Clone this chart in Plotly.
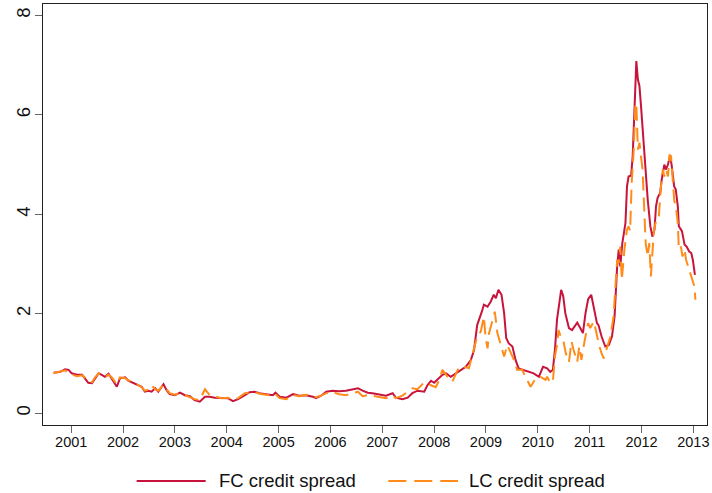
import plotly.graph_objects as go

# FC credit spread, x in decimal years
fc_years = [2000.66, 2000.79, 2000.88, 2000.95, 2001.01, 2001.11, 2001.21, 2001.27, 2001.33, 2001.40,
            2001.46, 2001.53, 2001.59, 2001.65, 2001.72, 2001.78, 2001.88, 2001.94, 2002.04, 2002.10,
            2002.20, 2002.29, 2002.36, 2002.42, 2002.49, 2002.55, 2002.62, 2002.68, 2002.78, 2002.84,
            2002.90, 2003.00, 2003.10, 2003.19, 2003.29, 2003.38, 2003.48, 2003.58, 2003.67, 2003.77,
            2003.90, 2004.02, 2004.12, 2004.22, 2004.35, 2004.44, 2004.54, 2004.63, 2004.76, 2004.89,
            2004.94, 2005.02, 2005.15, 2005.28, 2005.40, 2005.53, 2005.66, 2005.72, 2005.82, 2005.92,
            2006.04, 2006.17, 2006.30, 2006.43, 2006.53, 2006.62, 2006.72, 2006.81, 2006.94, 2007.07,
            2007.20, 2007.26, 2007.39, 2007.49, 2007.58, 2007.68, 2007.81, 2007.87, 2007.94, 2008.00,
            2008.06, 2008.16, 2008.23, 2008.32, 2008.42, 2008.51, 2008.61, 2008.71, 2008.77, 2008.83,
            2008.87, 2008.92, 2008.96, 2009.03, 2009.09, 2009.15, 2009.19, 2009.24, 2009.30, 2009.35,
            2009.39, 2009.44, 2009.51, 2009.57, 2009.63, 2009.73, 2009.83, 2009.92, 2010.02, 2010.10,
            2010.18, 2010.24, 2010.29, 2010.33, 2010.37, 2010.42, 2010.45, 2010.49, 2010.53, 2010.60,
            2010.66, 2010.76, 2010.82, 2010.87, 2010.92, 2010.97, 2011.03, 2011.08, 2011.14, 2011.17,
            2011.23, 2011.30, 2011.37, 2011.43, 2011.48, 2011.53, 2011.56, 2011.59, 2011.63, 2011.69,
            2011.72, 2011.75, 2011.80, 2011.83, 2011.87, 2011.90, 2011.93, 2011.96, 2011.99, 2012.04,
            2012.08, 2012.12, 2012.17, 2012.21, 2012.25, 2012.28, 2012.31, 2012.36, 2012.39, 2012.44,
            2012.47, 2012.51, 2012.55, 2012.58, 2012.63, 2012.66, 2012.70, 2012.72, 2012.78, 2012.83,
            2012.87, 2012.92, 2012.96, 2012.99, 2013.03]
fc_spread = [0.81, 0.83, 0.88, 0.87, 0.80, 0.77, 0.77, 0.70, 0.61, 0.60,
             0.70, 0.80, 0.77, 0.73, 0.79, 0.70, 0.53, 0.70, 0.72, 0.65,
             0.61, 0.56, 0.53, 0.43, 0.45, 0.43, 0.50, 0.43, 0.58, 0.46,
             0.38, 0.36, 0.41, 0.36, 0.34, 0.26, 0.23, 0.33, 0.33, 0.31,
             0.30, 0.30, 0.24, 0.28, 0.36, 0.42, 0.43, 0.40, 0.38, 0.36,
             0.41, 0.33, 0.31, 0.38, 0.35, 0.36, 0.33, 0.30, 0.35, 0.43,
             0.45, 0.44, 0.45, 0.48, 0.50, 0.45, 0.41, 0.40, 0.38, 0.35,
             0.40, 0.31, 0.28, 0.31, 0.40, 0.45, 0.43, 0.56, 0.65, 0.61,
             0.67, 0.77, 0.80, 0.73, 0.80, 0.87, 0.93, 1.07, 1.27, 1.77,
             1.88, 2.04, 2.18, 2.14, 2.24, 2.38, 2.31, 2.48, 2.38, 2.01,
             1.51, 1.40, 1.34, 1.07, 0.90, 0.87, 0.83, 0.80, 0.73, 0.93,
             0.90, 0.83, 0.87, 1.27, 1.88, 2.21, 2.48, 2.35, 2.01, 1.71,
             1.67, 1.82, 1.71, 1.61, 2.01, 2.29, 2.38, 2.14, 1.81, 1.77,
             1.54, 1.34, 1.37, 1.54, 1.94, 2.95, 3.29, 2.95, 3.42, 3.82,
             4.56, 4.76, 4.78, 5.17, 6.31, 7.08, 6.71, 6.58, 6.18, 5.44,
             4.76, 4.29, 3.76, 3.55, 3.69, 4.16, 4.33, 4.43, 4.70, 5.00,
             4.90, 5.00, 5.17, 5.00, 4.56, 4.50, 4.16, 3.76, 3.66, 3.39,
             3.35, 3.25, 3.22, 3.08, 2.78]

# LC credit spread
lc_years = [2000.66, 2000.79, 2000.88, 2000.95, 2001.01, 2001.11, 2001.21, 2001.27, 2001.33, 2001.40,
            2001.46, 2001.53, 2001.59, 2001.65, 2001.72, 2001.78, 2001.88, 2001.94, 2002.04, 2002.10,
            2002.20, 2002.29, 2002.36, 2002.42, 2002.49, 2002.55, 2002.62, 2002.68, 2002.78, 2002.84,
            2002.90, 2003.00, 2003.10, 2003.19, 2003.29, 2003.38, 2003.48, 2003.58, 2003.67, 2003.77,
            2003.90, 2004.02, 2004.12, 2004.22, 2004.35, 2004.44, 2004.54, 2004.63, 2004.76, 2004.89,
            2004.94, 2005.02, 2005.15, 2005.28, 2005.40, 2005.53, 2005.66, 2005.72, 2005.82, 2005.92,
            2006.04, 2006.17, 2006.30, 2006.43, 2006.53, 2006.62, 2006.72, 2006.81, 2006.94, 2007.07,
            2007.20, 2007.26, 2007.39, 2007.49, 2007.58, 2007.68, 2007.81, 2007.94, 2008.03, 2008.10,
            2008.16, 2008.26, 2008.35, 2008.48, 2008.58, 2008.67, 2008.77, 2008.83, 2008.90, 2008.96,
            2008.99, 2009.03, 2009.06, 2009.11, 2009.17, 2009.22, 2009.28, 2009.35, 2009.41, 2009.48,
            2009.54, 2009.60, 2009.70, 2009.76, 2009.86, 2009.96, 2010.05, 2010.15, 2010.18, 2010.24,
            2010.29, 2010.33, 2010.37, 2010.40, 2010.45, 2010.49, 2010.54, 2010.60, 2010.65, 2010.69,
            2010.76, 2010.80, 2010.84, 2010.90, 2010.97, 2011.01, 2011.08, 2011.14, 2011.17, 2011.23,
            2011.27, 2011.33, 2011.40, 2011.46, 2011.53, 2011.56, 2011.59, 2011.62, 2011.67, 2011.72,
            2011.75, 2011.78, 2011.81, 2011.85, 2011.88, 2011.90, 2011.93, 2011.96, 2011.99, 2012.02,
            2012.05, 2012.08, 2012.12, 2012.15, 2012.18, 2012.21, 2012.24, 2012.28, 2012.33, 2012.37,
            2012.41, 2012.44, 2012.47, 2012.51, 2012.54, 2012.57, 2012.60, 2012.63, 2012.67, 2012.70,
            2012.72, 2012.76, 2012.79, 2012.83, 2012.86, 2012.90, 2012.94, 2012.99, 2013.02, 2013.04]
lc_spread = [0.80, 0.84, 0.86, 0.80, 0.78, 0.74, 0.76, 0.71, 0.63, 0.62,
             0.72, 0.80, 0.76, 0.72, 0.77, 0.72, 0.58, 0.72, 0.70, 0.66,
             0.62, 0.57, 0.52, 0.45, 0.47, 0.56, 0.48, 0.45, 0.57, 0.48,
             0.40, 0.37, 0.40, 0.36, 0.32, 0.28, 0.26, 0.48, 0.36, 0.33,
             0.30, 0.31, 0.27, 0.30, 0.40, 0.41, 0.42, 0.39, 0.37, 0.35,
             0.38, 0.30, 0.28, 0.36, 0.34, 0.37, 0.34, 0.32, 0.35, 0.40,
             0.42, 0.38, 0.36, 0.40, 0.43, 0.34, 0.36, 0.35, 0.33, 0.30,
             0.35, 0.30, 0.35, 0.43, 0.50, 0.48, 0.62, 0.56, 0.52, 0.67,
             0.87, 0.73, 0.63, 0.93, 0.93, 0.90, 1.27, 1.54, 1.64, 1.94,
             1.54, 1.30, 1.61, 1.81, 2.04, 1.61, 1.37, 1.14, 1.37, 1.20,
             1.07, 0.87, 0.87, 0.73, 0.53, 0.70, 0.73, 0.67, 0.73, 0.61,
             0.63, 1.14, 1.37, 1.67, 1.51, 1.47, 1.20, 1.03, 1.44, 1.27,
             1.03, 1.34, 1.07, 1.44, 1.81, 1.71, 1.84, 1.57, 1.41, 1.20,
             1.10, 1.30, 1.54, 1.94, 3.08, 3.02, 3.35, 2.68, 3.29, 3.69,
             3.76, 3.66, 4.63, 5.30, 6.18, 6.24, 5.30, 5.44, 5.17, 4.90,
             4.16, 3.42, 3.15, 3.42, 2.75, 3.29, 3.69, 3.86, 3.89, 4.50,
             4.90, 4.76, 4.90, 4.76, 5.20, 5.17, 4.63, 4.29, 4.09, 3.82,
             3.29, 3.35, 3.15, 3.29, 3.08, 2.95, 2.82, 2.68, 2.55, 2.28]

year_ticks = list(range(2001, 2014))
y_ticks = [0, 2, 4, 6, 8]

FC_COLOR = "#C8143C"
LC_COLOR = "#FF8C1A"
FONT = "Liberation Sans, Arial, Helvetica, sans-serif"

fig = go.Figure()
fig.add_trace(go.Scatter(x=fc_years, y=fc_spread, mode="lines", name="FC credit spread",
                         line=dict(color=FC_COLOR, width=2)))
fig.add_trace(go.Scatter(x=lc_years, y=lc_spread, mode="lines", name="LC credit spread",
                         line=dict(color=LC_COLOR, width=2, dash="14px,7px")))

fig.update_layout(
    width=712, height=493,
    margin=dict(l=43, r=3, t=4, b=68),
    paper_bgcolor="white", plot_bgcolor="white",
    showlegend=False,
    font=dict(family=FONT, color="#111"),
)
fig.update_xaxes(range=[2000.456, 2013.263], tickvals=year_ticks, ticktext=[str(y) for y in year_ticks],
                 ticks="outside", ticklen=7, tickcolor="#666", tickwidth=1, ticklabelstandoff=-3,
                 showline=True, mirror=True, linecolor="#222", linewidth=1,
                 showgrid=False, zeroline=False, tickfont=dict(size=14.5))
fig.update_yaxes(range=[-0.24, 8.23], tickvals=y_ticks,
                 ticks="outside", ticklen=7, tickcolor="#666", tickwidth=1, tickangle=-90,
                 ticklabelstandoff=-2,
                 showline=True, mirror=True, linecolor="#222", linewidth=1,
                 showgrid=False, zeroline=False, tickfont=dict(size=18.5))

# legend drawn below the plot, like the base-R legend
leg_y = -0.133
fig.add_shape(type="line", xref="paper", yref="paper", x0=0.141, x1=0.245, y0=leg_y, y1=leg_y,
              line=dict(color=FC_COLOR, width=2))
fig.add_shape(type="line", xref="paper", yref="paper", x0=0.520, x1=0.625, y0=leg_y, y1=leg_y,
              line=dict(color=LC_COLOR, width=2, dash="18px,8px"))
fig.add_annotation(text="FC credit spread", xref="paper", yref="paper", x=0.262, y=leg_y,
                   xanchor="left", yanchor="middle", showarrow=False, font=dict(size=18.5))
fig.add_annotation(text="LC credit spread", xref="paper", yref="paper", x=0.639, y=leg_y,
                   xanchor="left", yanchor="middle", showarrow=False, font=dict(size=18.5))

# drop the default page margin so the figure sits at the window's corner
fig.write_html("out.html", config={"displayModeBar": False},
               post_script="document.body.style.margin='0';")
